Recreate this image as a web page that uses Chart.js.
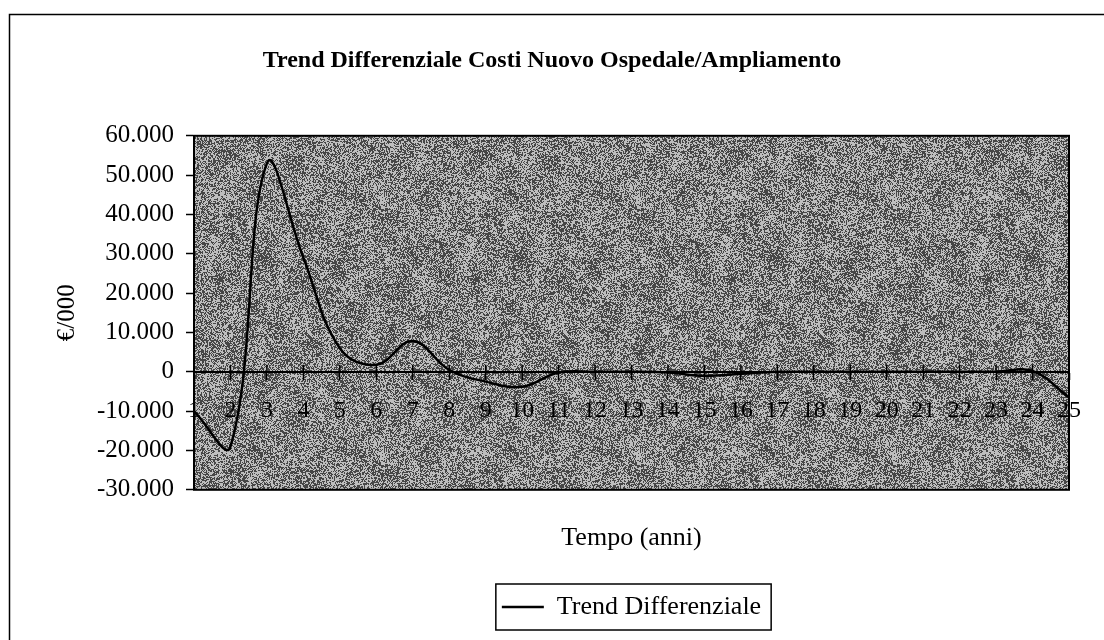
<!DOCTYPE html>
<html>
<head>
<meta charset="utf-8">
<script src="https://cdn.jsdelivr.net/npm/chart.js@4.4.1/dist/chart.umd.min.js"></script>
<style>
  html, body { margin: 0; padding: 0; background: #fff; }
  #wrap { width: 1104px; height: 640px; }
</style>
</head>
<body>
<div id="wrap"><canvas id="chart1" width="1104" height="640"></canvas></div>
<script>
// anni 1..25
const years = ['1','2','3','4','5','6','7','8','9','10','11','12','13','14','15','16','17','18','19','20','21','22','23','24','25'];
// differenziale costi (€/000)
const trendValues = [-10000, -19000, 53000, 29000, 6000, 1800, 7800, 500, -2500, -3800, -200, 0, 0, -200, -1000, -500, 0, 0, 0, 0, 0, 0, 0, 200, -6500];
const yMin = -30000;
const yMax = 60000;
const yStep = 10000;

const chartTitle = 'Trend Differenziale Costi Nuovo Ospedale/Ampliamento';
const xTitle = 'Tempo (anni)';
const yTitle = '€/000';
const seriesName = 'Trend Differenziale';

const serif = "'Times New Roman', 'Liberation Serif', serif";
Chart.defaults.font.family = serif;
Chart.defaults.color = '#000';

// format 60000 -> 60.000
function fmtThousands(v) {
    if (v === 0) return '0';
    const s = Math.abs(v).toString().replace(/\B(?=(\d{3})+(?!\d))/g, '.');
    return (v < 0 ? '-' : '') + s;
}

// grey mottled texture like the old Excel fill
function makeTexture() {
    const size = 256;
    const c = document.createElement('canvas');
    c.width = size; c.height = size;
    const g = c.getContext('2d');
    const img = g.createImageData(size, size);
    const tw = 2 * Math.PI / size;
    for (let yy = 0; yy < size; yy++) {
        for (let xx = 0; xx < size; xx++) {
            const h = Math.abs(Math.sin(xx * 12.9898 + yy * 78.233) * 43758.5453) % 1;
            const blot = 0.07 * Math.sin(xx * tw * 3 + 1.3) * Math.cos(yy * tw * 4)
                       + 0.05 * Math.sin(xx * tw * 7 + yy * tw * 2)
                       + 0.04 * Math.cos(yy * tw * 9 - xx * tw * 5);
            const level = 0.5 + blot;
            const v = h < level ? 70 : 190;
            const k = (yy * size + xx) * 4;
            img.data[k] = v; img.data[k + 1] = v; img.data[k + 2] = v; img.data[k + 3] = 255;
        }
    }
    g.putImageData(img, 0, 0);
    return c;
}

const framePlugin = {
    id: 'frame',
    beforeDraw(chart) {
        const { ctx, chartArea } = chart;
        ctx.save();
        ctx.fillStyle = '#fff';
        ctx.fillRect(0, 0, chart.width, chart.height);
        // outer chart border (continues past the right/bottom edge)
        ctx.strokeStyle = '#000';
        ctx.lineWidth = 1.5;
        ctx.beginPath();
        ctx.moveTo(9.5, chart.height + 5);
        ctx.lineTo(9.5, 14.5);
        ctx.lineTo(chart.width + 5, 14.5);
        ctx.stroke();
        // plot area texture
        ctx.fillStyle = ctx.createPattern(makeTexture(), 'repeat');
        ctx.fillRect(chartArea.left, chartArea.top, chartArea.right - chartArea.left, chartArea.bottom - chartArea.top);
        ctx.restore();
    },
    afterDraw(chart) {
        const { ctx, chartArea, scales } = chart;
        ctx.save();
        ctx.strokeStyle = '#000';
        ctx.lineWidth = 2;
        ctx.strokeRect(chartArea.left, chartArea.top, chartArea.right - chartArea.left, chartArea.bottom - chartArea.top);
        // upper half of the cross tick marks on the zero axis
        const y0 = scales.y.getPixelForValue(0);
        ctx.lineWidth = 1.5;
        ctx.beginPath();
        for (let i = 0; i < years.length; i++) {
            const px = scales.x.getPixelForTick(i);
            ctx.moveTo(px, y0 - 7);
            ctx.lineTo(px, y0);
        }
        ctx.stroke();
        // border around the legend
        const hb = chart.legend.legendHitBoxes[0];
        if (hb) {
            ctx.lineWidth = 1.5;
            ctx.strokeRect(hb.left - 6, hb.top - 10, hb.width + 16, hb.height + 20);
        }
        ctx.restore();
    }
};

const ctx = document.getElementById('chart1').getContext('2d');
const chart = new Chart(ctx, {
    type: 'line',
    data: {
        labels: years,
        datasets: [
            { label: seriesName, data: trendValues, borderColor: '#000', backgroundColor: '#000', borderWidth: 2.5, pointRadius: 0, tension: 0.4, fill: false },
        ],
    },
    options: {
        responsive: false,
        animation: false,
        layout: { padding: { left: 0, right: 0, top: 0, bottom: 10 } },
        scales: {
            x: {
                type: 'category',
                position: { y: 0 },
                offset: false,
                grid: { drawOnChartArea: false, tickLength: 7, tickColor: '#000', tickWidth: 1.5 },
                border: { display: true, color: '#000', width: 2 },
                ticks: { autoSkip: false, maxRotation: 0, padding: 18, font: { size: 24 }, color: '#000' },
            },
            y: {
                position: 'left',
                min: yMin, max: yMax,
                grid: { drawOnChartArea: false, tickLength: 8, tickColor: '#000', tickWidth: 1.5 },
                border: { display: true, color: '#000', width: 2 },
                ticks: { stepSize: yStep, padding: 12, font: { size: 25 }, color: '#000', callback: (v) => fmtThousands(v) },
                title: { display: true, text: yTitle, font: { size: 25 }, color: '#000', padding: { top: 52, bottom: 0 } },
                afterFit: (s) => { s.width = 194; },
            },
            yR: {
                position: 'right',
                display: true,
                grid: { display: false },
                border: { display: false },
                ticks: { display: false },
                afterFit: (s) => { s.width = 35; },
            },
        },
        plugins: {
            title: { display: true, text: chartTitle, font: { size: 24, weight: 'bold' }, color: '#000', padding: { top: 46, bottom: 61 } },
            subtitle: { display: true, text: xTitle, position: 'bottom', fullSize: false, weight: 500, font: { size: 26 }, color: '#000', padding: { top: 33, bottom: 30 } },
            legend: {
                position: 'bottom',
                fullSize: false,
                weight: 1000,
                labels: { usePointStyle: true, pointStyle: 'line', pointStyleWidth: 42, boxHeight: 26, padding: 10, font: { size: 26 }, color: '#000' },
            },
            tooltip: { enabled: false },
        },
    },
    plugins: [framePlugin],
});
</script>
</body>
</html>
